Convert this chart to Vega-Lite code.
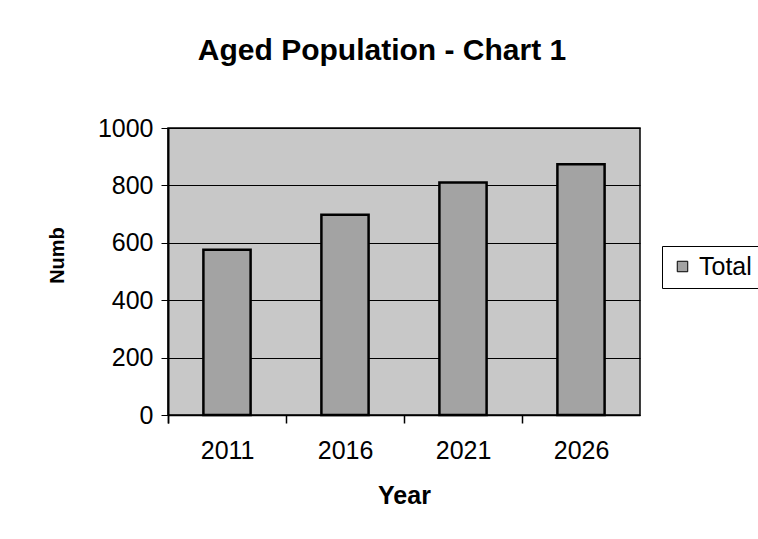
{
  "$schema": "https://vega.github.io/schema/vega-lite/v6.json",
  "autosize": "none",
  "width": 472,
  "height": 287,
  "padding": {"left": 168, "top": 128, "right": 118, "bottom": 124},
  "background": "white",
  "title": {
    "text": "Aged Population - Chart 1",
    "font": "Liberation Sans",
    "fontSize": 30,
    "fontWeight": "bold",
    "color": "black",
    "anchor": "middle",
    "dx": -22,
    "offset": 50
  },
  "data": {
    "values": [
      {"Year": "2011", "Number": 576, "Series": "Total"},
      {"Year": "2016", "Number": 698, "Series": "Total"},
      {"Year": "2021", "Number": 810, "Series": "Total"},
      {"Year": "2026", "Number": 874, "Series": "Total"}
    ]
  },
  "mark": {"type": "bar", "stroke": "black", "strokeWidth": 2.5},
  "encoding": {
    "x": {
      "field": "Year",
      "type": "ordinal",
      "scale": {"paddingInner": 0.6, "paddingOuter": 0.3},
      "axis": {
        "title": "Year",
        "labelAngle": 0,
        "ticks": true,
        "tickExtra": true,
        "bandPosition": 0,
        "tickOffset": -35.4,
        "labelOffset": 35.5,
        "tickSize": 8,
        "tickWidth": 1.5,
        "tickColor": "black",
        "tickOpacity": 1,
        "domainColor": "black",
        "domainWidth": 1.5,
        "labelPadding": 15,
        "labelFont": "Liberation Sans",
        "labelFontSize": 25,
        "labelColor": "black",
        "titleFont": "Liberation Sans",
        "titleFontSize": 25,
        "titleFontWeight": "bold",
        "titleColor": "black",
        "titlePadding": 20
      }
    },
    "y": {
      "field": "Number",
      "type": "quantitative",
      "scale": {"domain": [0, 1000], "nice": false},
      "axis": {
        "title": "Numb",
        "format": "d",
        "values": [0, 200, 400, 600, 800, 1000],
        "tickSize": 7,
        "tickColor": "black",
        "domainColor": "black",
        "domainWidth": 2,
        "gridColor": "black",
        "gridWidth": 1,
        "gridOpacity": 1,
        "labelPadding": 8,
        "labelFont": "Liberation Sans",
        "labelFontSize": 25,
        "labelColor": "black",
        "titleFont": "Liberation Sans",
        "titleFontSize": 20,
        "titleFontWeight": "bold",
        "titleColor": "black",
        "titlePadding": 30,
        "titleY": 127
      }
    },
    "color": {
      "field": "Series",
      "type": "nominal",
      "scale": {"range": ["#a3a3a3"]},
      "legend": {
        "title": null,
        "orient": "none",
        "legendX": 494,
        "legendY": 118,
        "strokeColor": "black",
        "fillColor": "white",
        "padding": 8,
        "symbolType": "square",
        "symbolSize": 110,
        "symbolStrokeColor": "black",
        "symbolStrokeWidth": 1,
        "symbolFillColor": "#a3a3a3",
        "labelFont": "Liberation Sans",
        "labelFontSize": 25,
        "labelColor": "black",
        "labelOffset": 4
      }
    }
  },
  "config": {
    "view": {"fill": "#c8c8c8", "stroke": "black", "strokeWidth": 1.5}
  }
}
